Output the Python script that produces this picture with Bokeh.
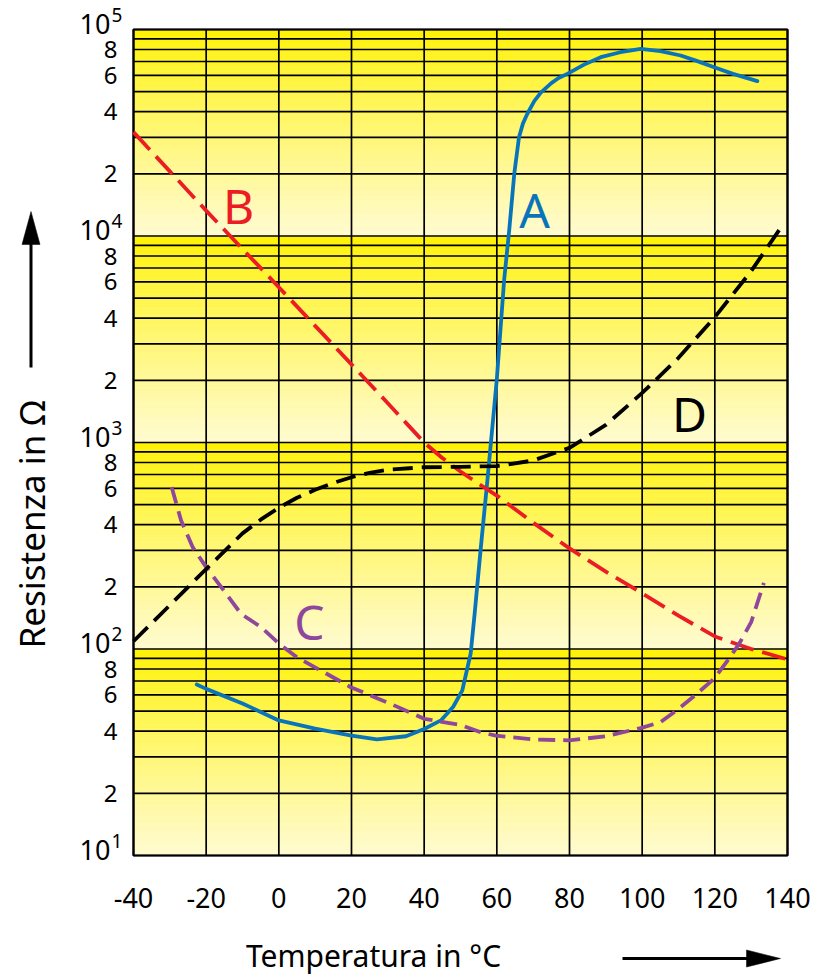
import numpy as np
from bokeh.plotting import figure
from bokeh.models import Range1d
from bokeh.core.properties import value
from bokeh.embed import file_html
from bokeh.resources import INLINE

# ---------------- data ----------------
x_ticks = [-40, -20, 0, 20, 40, 60, 80, 100, 120, 140]
x_tick_labels = ["-40", "-20", "0", "20", "40", "60", "80", "100", "120", "140"]
decade_values = [10, 100, 1000, 10000, 100000]
decade_exps = ["1", "2", "3", "4", "5"]
minor_digits = [2, 4, 6, 8]

# Curve A (blue, solid)
A_T = [-22.6, -20, -10, 0, 10, 20, 27, 35, 40, 44.6, 48, 50.5, 52.8, 53.9,
       55.6, 57.4, 60, 62, 63.4, 64.8, 66.1, 67.2, 68.4, 70.3, 72.1, 75, 77,
       79.4, 84, 88.6, 94, 99.6, 105, 110.6, 115, 119.8, 125, 131.7]
A_R = [67.3, 64.1, 54.5, 45.1, 41.2, 38.1, 36.5, 37.8, 41.0, 45.1, 52.5, 63.1,
       95.1, 148.6, 311, 655, 2028, 6095, 10640, 20000, 30060, 35100, 39080,
       45000, 49500, 55000, 58200, 60950, 67600, 73450, 77600, 80540, 78500,
       74820, 70470, 65610, 60950, 56230]

# Curve B (red, dashed)
B_T = [-40, -30, -20, -10, 0, 10, 20, 30, 35, 40, 45, 50, 55, 60, 70, 80, 90,
       100, 110, 120, 130, 140]
B_R = [31840, 20560, 13270, 8650, 5650, 3670, 2390, 1549, 1245, 1000, 841, 724,
       631, 553, 409, 307, 237, 186, 145, 115, 100, 89]

# Curve C (purple, dashed)
C_T = [-29.5, -26.9, -23.7, -20, -15.9, -10.4, -5, 0.1, 5, 10.7, 19.8, 30, 40,
       50, 55.6, 59.7, 70, 79.9, 90, 99.6, 105.1, 110, 114, 119.8, 123.5, 126.7,
       130, 133.5]
C_R = [608, 419, 311, 249, 200, 148, 128, 106, 91.2, 80.2, 65.3, 55.0, 45.9,
       42.9, 39.5, 38.1, 36.5, 36.1, 37.8, 41.4, 44.3, 51.3, 58.5, 71.8, 87.9,
       106, 135, 209]

# Curve D (black, dashed)
D_T = [-40, -30, -20, -10, -5, 0, 5, 10, 15, 20, 25, 30, 40, 50, 60, 70, 80,
       90, 100, 110, 120, 130, 139]
D_R = [109, 163, 244, 363, 423, 483, 540, 590, 637, 679, 713, 738, 759, 762,
       769, 818, 942, 1216, 1738, 2570, 4046, 6761, 11530]

curve_names = ["A", "B", "C", "D"]
x_title = "Temperatura in °C"
y_title = "Resistenza in Ω"

# ---------------- layout ----------------
# The drawing area covers the whole canvas; the chart box occupies
# page pixels x 133..787, y 29..855 (data -40..140, 10..1e5).
W, H = 816, 978
X0, X1 = -40, 140
Y0, Y1 = 10, 100000
PL, PR, PT, PB = 133, 787, 29, 855
FONT = "Noto Sans"


def px2x(px):
    return X0 + (px - PL) * (X1 - X0) / (PR - PL)


def py2y(py):
    return 10 ** (5 - (py - PT) * 4.0 / (PB - PT))


def up(val, pix):
    # move a log-axis value up by pix screen pixels
    return val * 10 ** (pix * 4.0 / (PB - PT))


p = figure(width=W, height=H,
           x_range=Range1d(px2x(0), px2x(W)),
           y_range=Range1d(py2y(H), py2y(0)),
           y_axis_type="log", x_axis_location=None, y_axis_location=None,
           output_backend="svg", toolbar_location=None,
           min_border=0, min_border_left=0, min_border_right=0,
           min_border_top=0, min_border_bottom=0)
p.background_fill_color = "white"
p.border_fill_color = "white"
p.outline_line_color = None
p.grid.visible = False

# background gradient per decade
top_c = np.array([255, 242, 0])
bot_c = np.array([255, 251, 208])
n = 60
for i in range(len(decade_values) - 1):
    lo, hi = decade_values[i], decade_values[i + 1]
    edges = lo * (hi / lo) ** (np.arange(n + 1) / n)
    t = 1 - (np.arange(n) + 0.5) / n  # 0 at top, 1 at bottom
    t = t ** 0.85
    cols = []
    for tt in t:
        c = top_c + (bot_c - top_c) * tt
        cols.append("#%02x%02x%02x" % tuple(int(round(v)) for v in c))
    p.quad(left=X0, right=X1, bottom=edges[:-1], top=edges[1:],
           fill_color=cols, line_color=cols, line_width=0.6)

# grid lines
grid_ticks = [k * d for d in decade_values[:-1] for k in range(1, 10)] + [decade_values[-1]]
p.segment(x0=x_ticks, y0=[Y0] * len(x_ticks), x1=x_ticks, y1=[Y1] * len(x_ticks),
          line_color="black", line_width=1.7)
p.segment(x0=[X0] * len(grid_ticks), y0=grid_ticks, x1=[X1] * len(grid_ticks),
          y1=grid_ticks, line_color="black", line_width=1.7)
p.quad(left=[X0], right=[X1], bottom=[Y0], top=[Y1], fill_color=None,
       line_color="black", line_width=2.2)

# tick labels
p.text(x=x_ticks, y=[py2y(897)] * len(x_ticks), text=x_tick_labels,
       text_align="center", text_baseline="middle", text_font=value(FONT),
       text_font_size="27px", text_color="black")
ylab_ticks = [k * d for d in decade_values[:-1] for k in minor_digits]
ylab_text = [str(k) for d in decade_values[:-1] for k in minor_digits]
p.text(x=[px2x(117)] * len(ylab_ticks), y=ylab_ticks, text=ylab_text,
       text_align="right", text_baseline="middle", text_font=value(FONT),
       text_font_size="24px", text_color="black")
p.text(x=[px2x(110)] * len(decade_values), y=[up(d, 6) for d in decade_values],
       text=["10"] * len(decade_values), text_align="right",
       text_baseline="middle", text_font=value(FONT), text_font_size="27px",
       text_color="black")
p.text(x=[px2x(111)] * len(decade_values), y=[up(d, 15) for d in decade_values],
       text=decade_exps, text_align="left", text_baseline="middle",
       text_font=value(FONT), text_font_size="19px", text_color="black")

# curves
p.line(A_T, A_R, line_color="#0a74bb", line_width=3.8, line_join="round", line_cap="round")
p.line(B_T, B_R, line_color="#ec1c24", line_width=3.8, line_dash="24 9")
p.line(C_T, C_R, line_color="#8e479c", line_width=3.8, line_dash="17 8")
p.line(D_T, D_R, line_color="black", line_width=3.8, line_dash="20 9")

# curve names
name_pos = {"A": (534, 209, "#0a74bb"), "B": (238, 205, "#ec1c24"),
            "C": (309, 621, "#8e479c"), "D": (689, 413, "black")}
for nm in curve_names:
    px, py, col = name_pos[nm]
    p.text(x=[px2x(px)], y=[py2y(py)], text=[nm], text_align="center",
           text_baseline="middle", text_font=value(FONT),
           text_font_size="48px", text_color=col)

# axis titles
p.text(x=[px2x(373)], y=[py2y(955)], text=[x_title], text_align="center",
       text_baseline="middle", text_font=value(FONT), text_font_size="30px",
       text_color="black")
p.text(x=[px2x(31)], y=[py2y(524)], text=[y_title], text_align="center",
       text_baseline="middle", angle=np.pi / 2, text_font=value(FONT),
       text_font_size="35px", text_color="black")

# arrows
p.segment(x0=[px2x(30.5)], y0=[py2y(367)], x1=[px2x(30.5)], y1=[py2y(240)],
          line_color="black", line_width=3)
p.patch(x=[px2x(21.5), px2x(30.5), px2x(39.5)], y=[py2y(244), py2y(211), py2y(244)],
        fill_color="black", line_color="black", line_width=0.5)
p.segment(x0=[px2x(622)], y0=[py2y(958)], x1=[px2x(750)], y1=[py2y(958)],
          line_color="black", line_width=3)
p.patch(x=[px2x(746), px2x(780), px2x(746)], y=[py2y(949.5), py2y(958), py2y(966.5)],
        fill_color="black", line_color="black", line_width=0.5)

open("out.html", "w").write(file_html(p, INLINE))
